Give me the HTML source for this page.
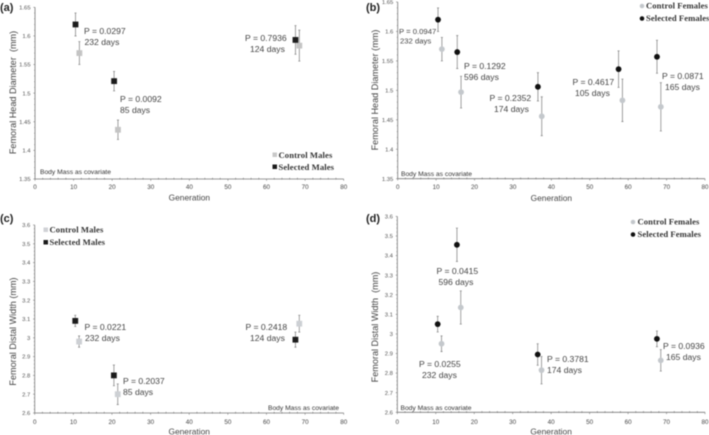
<!DOCTYPE html>
<html>
<head>
<meta charset="utf-8">
<style>
html,body{margin:0;padding:0;background:#fff;}
body{width:709px;height:435px;overflow:hidden;}
svg{display:block;filter:blur(0.45px);}
text{font-family:"Liberation Sans",sans-serif;fill:#404040;}
.tick{font-size:5.9px;fill:#555;}
.xt{font-size:6.3px;fill:#444;text-anchor:middle;}
.ann{font-size:8.6px;fill:#444;}
.axt{font-size:8.4px;fill:#444;}
.ayt{font-size:9.1px;fill:#444;white-space:pre;}
.cov{font-size:6.7px;fill:#333;}
.pl{font-size:11px;font-weight:bold;fill:#222;}
.leg{font-family:"Liberation Serif",serif;font-size:8.6px;font-weight:bold;fill:#333;letter-spacing:0.1px;}
.legf{letter-spacing:0.08px;}
</style>
</head>
<body>
<svg id="fig" width="709" height="435" viewBox="0 0 709 435" xmlns="http://www.w3.org/2000/svg">
  <text class="pl" x="0" y="11">(a)</text>
  <text class="pl" x="366" y="11">(b)</text>
  <text class="pl" x="0" y="222">(c)</text>
  <text class="pl" x="366" y="222">(d)</text>

  <g>
    <text class="ann" x="84" y="34">P = 0.0297</text>
    <text class="ann" x="84.500" y="45">232 days</text>
    <text class="ann" x="120" y="102">P = 0.0092</text>
    <text class="ann" x="120" y="113">85 days</text>
    <text class="ann" x="245" y="41">P = 0.7936</text>
    <text class="ann" x="250" y="52">124 days</text>
    <text class="cov" x="40" y="174">Body Mass as covariate</text>
  </g>
  <g>
    <text class="ann" x="399" y="34" style="font-size:7.7px">P = 0.0947</text>
    <text class="ann" x="400" y="43.500" style="font-size:7.7px">232 days</text>
    <text class="ann" x="464" y="69">P = 0.1292</text>
    <text class="ann" x="464" y="80">596 days</text>
    <text class="ann" x="489.500" y="101">P = 0.2352</text>
    <text class="ann" x="494" y="112">174 days</text>
    <text class="ann" x="572.500" y="85">P = 0.4617</text>
    <text class="ann" x="575" y="96">105 days</text>
    <text class="ann" x="662" y="79">P = 0.0871</text>
    <text class="ann" x="665" y="90">165 days</text>
    <text class="cov" x="401" y="176">Body Mass as covariate</text>
  </g>
  <g>
    <text class="ann" x="84.500" y="330">P = 0.0221</text>
    <text class="ann" x="85" y="341">232 days</text>
    <text class="ann" x="123" y="384">P = 0.2037</text>
    <text class="ann" x="123" y="395">85 days</text>
    <text class="ann" x="245.500" y="330">P = 0.2418</text>
    <text class="ann" x="250" y="341">124 days</text>
    <text class="cov" x="268" y="410">Body Mass as covariate</text>
  </g>
  <g>
    <text class="ann" x="436.500" y="274">P = 0.0415</text>
    <text class="ann" x="438.500" y="285">596 days</text>
    <text class="ann" x="419" y="367">P = 0.0255</text>
    <text class="ann" x="422" y="378">232 days</text>
    <text class="ann" x="547" y="362">P = 0.3781</text>
    <text class="ann" x="547" y="373">174 days</text>
    <text class="ann" x="663" y="349">P = 0.0936</text>
    <text class="ann" x="666" y="360">165 days</text>
    <text class="cov" x="400.500" y="410">Body Mass as covariate</text>
  </g>

  <g>
    <rect x="272.500" y="152.500" width="4.500" height="4.500" fill="#c8c8c8"/>
    <text class="leg" x="278.500" y="158">Control Males</text>
    <rect x="272.500" y="164.500" width="4.500" height="4.500" fill="#1a1a1a"/>
    <text class="leg" x="278.500" y="170">Selected Males</text>
  </g>
  <g>
    <circle cx="642" cy="6" r="2.300" fill="#c4c8cc"/>
    <text class="leg legf" x="646" y="8.500">Control Females</text>
    <circle cx="642" cy="18.500" r="2.300" fill="#111"/>
    <text class="leg legf" x="646" y="21">Selected Females</text>
  </g>
  <g>
    <rect x="43.500" y="227.500" width="4.500" height="4.500" fill="#d0d2d6"/>
    <text class="leg" x="49.500" y="232.500">Control Males</text>
    <rect x="43.500" y="240" width="4.500" height="4.500" fill="#1a1a1a"/>
    <text class="leg" x="49.500" y="245">Selected Males</text>
  </g>
  <g>
    <circle cx="633" cy="222" r="2.300" fill="#c4c8cc"/>
    <text class="leg legf" x="637.500" y="224.500">Control Females</text>
    <circle cx="633" cy="234.500" r="2.300" fill="#111"/>
    <text class="leg legf" x="637.500" y="237">Selected Females</text>
  </g>
</svg>
<script>
// Shared axis labels
const xTicks = [0, 10, 20, 30, 40, 50, 60, 70, 80];
const headTicks = ['1.35', '1.4', '1.45', '1.5', '1.55', '1.6', '1.65'];
const widthTicks = ['2.6', '2.7', '2.8', '2.9', '3', '3.1', '3.2', '3.3', '3.4', '3.5', '3.6'];

// Panel (a)
const aSelectedGen = [10.5, 20.5, 67.5];
const aSelectedVal = [1.62, 1.521, 1.593];
const aSelectedErr = [0.02, 0.017, 0.025];
const aControlGen = [11.5, 21.5, 68.5];
const aControlVal = [1.57, 1.436, 1.583];
const aControlErr = [0.02, 0.017, 0.027];

// Panel (b)
const bSelectedGen = [10.5, 15.5, 36.5, 57.5, 67.5];
const bSelectedVal = [1.62, 1.565, 1.506, 1.536, 1.557];
const bSelectedErr = [0.02, 0.028, 0.024, 0.031, 0.028];
const bControlGen = [11.5, 16.5, 37.5, 58.5, 68.5];
const bControlVal = [1.57, 1.497, 1.456, 1.483, 1.472];
const bControlErr = [0.02, 0.027, 0.033, 0.036, 0.041];

// Panel (c)
const cSelectedGen = [10.5, 20.5, 67.5];
const cSelectedVal = [3.09, 2.8, 2.99];
const cSelectedErr = [0.03, 0.055, 0.04];
const cControlGen = [11.5, 21.5, 68.5];
const cControlVal = [2.98, 2.7, 3.075];
const cControlErr = [0.03, 0.055, 0.045];

// Panel (d)
const dSelectedGen = [10.5, 15.5, 36.5, 67.5];
const dSelectedVal = [3.05, 3.455, 2.895, 2.975];
const dSelectedErr = [0.04, 0.085, 0.055, 0.04];
const dControlGen = [11.5, 16.5, 37.5, 68.5];
const dControlVal = [2.95, 3.135, 2.815, 2.865];
const dControlErr = [0.04, 0.085, 0.07, 0.055];

const NS = 'http://www.w3.org/2000/svg';
const fig = document.getElementById('fig');

function mk(parent, tag, attrs, txt) {
  const el = document.createElementNS(NS, tag);
  for (const k in attrs) el.setAttribute(k, attrs[k]);
  if (txt !== undefined) el.textContent = txt;
  parent.appendChild(el);
  return el;
}

function drawPanel(p) {
  const sx = v => p.x0 + (v - 0) / 80 * (p.x1 - p.x0);
  const sy = v => p.y0 + (v - p.vmin) / (p.vmax - p.vmin) * (p.y1 - p.y0);
  const axisColor = '#777';

  const g = document.createElementNS(NS, 'g');
  
  
  fig.appendChild(g);

  const xAxis = mk(g, 'g', {});
  
  
  mk(xAxis, 'line', {x1: sx(0), x2: sx(80), y1: p.y0, y2: p.y0, stroke: axisColor, 'stroke-width': 0.8});
  for (let m = 0; m <= 80; m += 2) {
    const major = m % 10 === 0;
    mk(xAxis, 'line', {x1: sx(m), x2: sx(m), y1: p.y0 - (major ? 0 : 1.2), y2: p.y0 + (major ? 1.8 : 0.6), stroke: axisColor, 'stroke-width': 0.6});
  }
  xTicks.forEach(t => {
    const lab = mk(xAxis, 'text', {class: 'xt', x: sx(t), y: p.y0 + p.xTickOff}, String(t));
    
    
  });
  const xTitle = mk(xAxis, 'text', {class: 'axt', x: (sx(0) + sx(80)) / 2, y: p.y0 + p.xTitleOff, 'text-anchor': 'middle'}, 'Generation');
  
  

  const yAxis = mk(g, 'g', {});
  
  
  mk(yAxis, 'line', {x1: p.x0, x2: p.x0, y1: sy(p.vmin), y2: sy(p.vmax), stroke: axisColor, 'stroke-width': 0.8});
  const step = (p.vmax - p.vmin) / (p.ticks.length - 1);
  p.ticks.forEach((t, i) => {
    const v = p.vmin + i * step;
    mk(yAxis, 'line', {x1: p.x0 - 1.6, x2: p.x0, y1: sy(v), y2: sy(v), stroke: axisColor, 'stroke-width': 0.6});
    if (i < p.ticks.length - 1) {
      for (let k = 1; k < 5; k++) {
        const mv = v + k * step / 5;
        mk(yAxis, 'line', {x1: p.x0 - 0.9, x2: p.x0, y1: sy(mv), y2: sy(mv), stroke: axisColor, 'stroke-width': 0.5});
      }
    }
    const lab = mk(yAxis, 'text', {class: 'tick', x: p.x0 - 4.4, y: sy(v) + 2.1, 'text-anchor': 'end'}, t);
    
    
  });
  const yTitle = mk(yAxis, 'text', {class: 'ayt', x: 0, y: 0, 'text-anchor': 'middle', transform: 'translate(' + p.yTitleX + ',' + p.yTitleY + ') rotate(-90)'}, p.yTitle);
  
  

  drawSeries(g, p, sx, sy, p.cGen, p.cVal, p.cErr, p.cColor, 'control');
  drawSeries(g, p, sx, sy, p.sGen, p.sVal, p.sErr, p.sColor, 'selected');
}

function drawSeries(g, p, sx, sy, gens, vals, errs, color, label) {
  const sg = mk(g, 'g', {});
  
  
  gens.forEach((gen, i) => {
    const cx = sx(gen), cy = sy(vals[i]);
    const top = sy(vals[i] + errs[i]), bot = sy(vals[i] - errs[i]);
    const bar = mk(sg, 'path', {
      d: 'M' + cx + ' ' + top + 'V' + bot + 'M' + (cx - 1) + ' ' + top + 'H' + (cx + 1) + 'M' + (cx - 1) + ' ' + bot + 'H' + (cx + 1),
      stroke: '#8a8a8a', 'stroke-width': 0.8, fill: 'none'
    });
    
    
    let mark;
    if (p.shape === 'square') {
      mark = mk(sg, 'rect', {x: cx - 2.9, y: cy - 2.9, width: 5.8, height: 5.8, fill: color});
    } else {
      mark = mk(sg, 'circle', {cx: cx, cy: cy, r: 2.9, fill: color});
    }
    
    
  });
}

const panels = [
  {id: 'a', x0: 35, x1: 343.7, y0: 179, y1: 7.3, vmin: 1.35, vmax: 1.65, ticks: headTicks, shape: 'square',
   yTitle: 'Femoral Head Diameter  (mm)', yTitleX: 16, yTitleY: 92.5, xTickOff: 10, xTitleOff: 21.7,
   sGen: aSelectedGen, sVal: aSelectedVal, sErr: aSelectedErr, cGen: aControlGen, cVal: aControlVal, cErr: aControlErr,
   sColor: '#1c1c1c', cColor: '#c4c4c4'},
  {id: 'b', x0: 397.7, x1: 705, y0: 178.700, y1: 2, vmin: 1.35, vmax: 1.65, ticks: headTicks, shape: 'circle',
   yTitle: 'Femoral Head Diameter (mm)', yTitleX: 378, yTitleY: 90, xTickOff: 10.3, xTitleOff: 22.3,
   sGen: bSelectedGen, sVal: bSelectedVal, sErr: bSelectedErr, cGen: bControlGen, cVal: bControlVal, cErr: bControlErr,
   sColor: '#111', cColor: '#c4c8cc'},
  {id: 'c', x0: 34.7, x1: 343.7, y0: 413, y1: 225, vmin: 2.6, vmax: 3.6, ticks: widthTicks, shape: 'square',
   yTitle: 'Femoral Distal Width (mm)', yTitleX: 16, yTitleY: 331.5, xTickOff: 11, xTitleOff: 21.5,
   sGen: cSelectedGen, sVal: cSelectedVal, sErr: cSelectedErr, cGen: cControlGen, cVal: cControlVal, cErr: cControlErr,
   sColor: '#1c1c1c', cColor: '#cdd0d4'},
  {id: 'd', x0: 397.3, x1: 705, y0: 412.300, y1: 216.400, vmin: 2.6, vmax: 3.6, ticks: widthTicks, shape: 'circle',
   yTitle: 'Femoral Distal Width  (mm)', yTitleX: 378, yTitleY: 327, xTickOff: 11.5, xTitleOff: 22.2,
   sGen: dSelectedGen, sVal: dSelectedVal, sErr: dSelectedErr, cGen: dControlGen, cVal: dControlVal, cErr: dControlErr,
   sColor: '#111', cColor: '#c4c8cc'}
];
panels.forEach(drawPanel);
</script>
</body>
</html>
